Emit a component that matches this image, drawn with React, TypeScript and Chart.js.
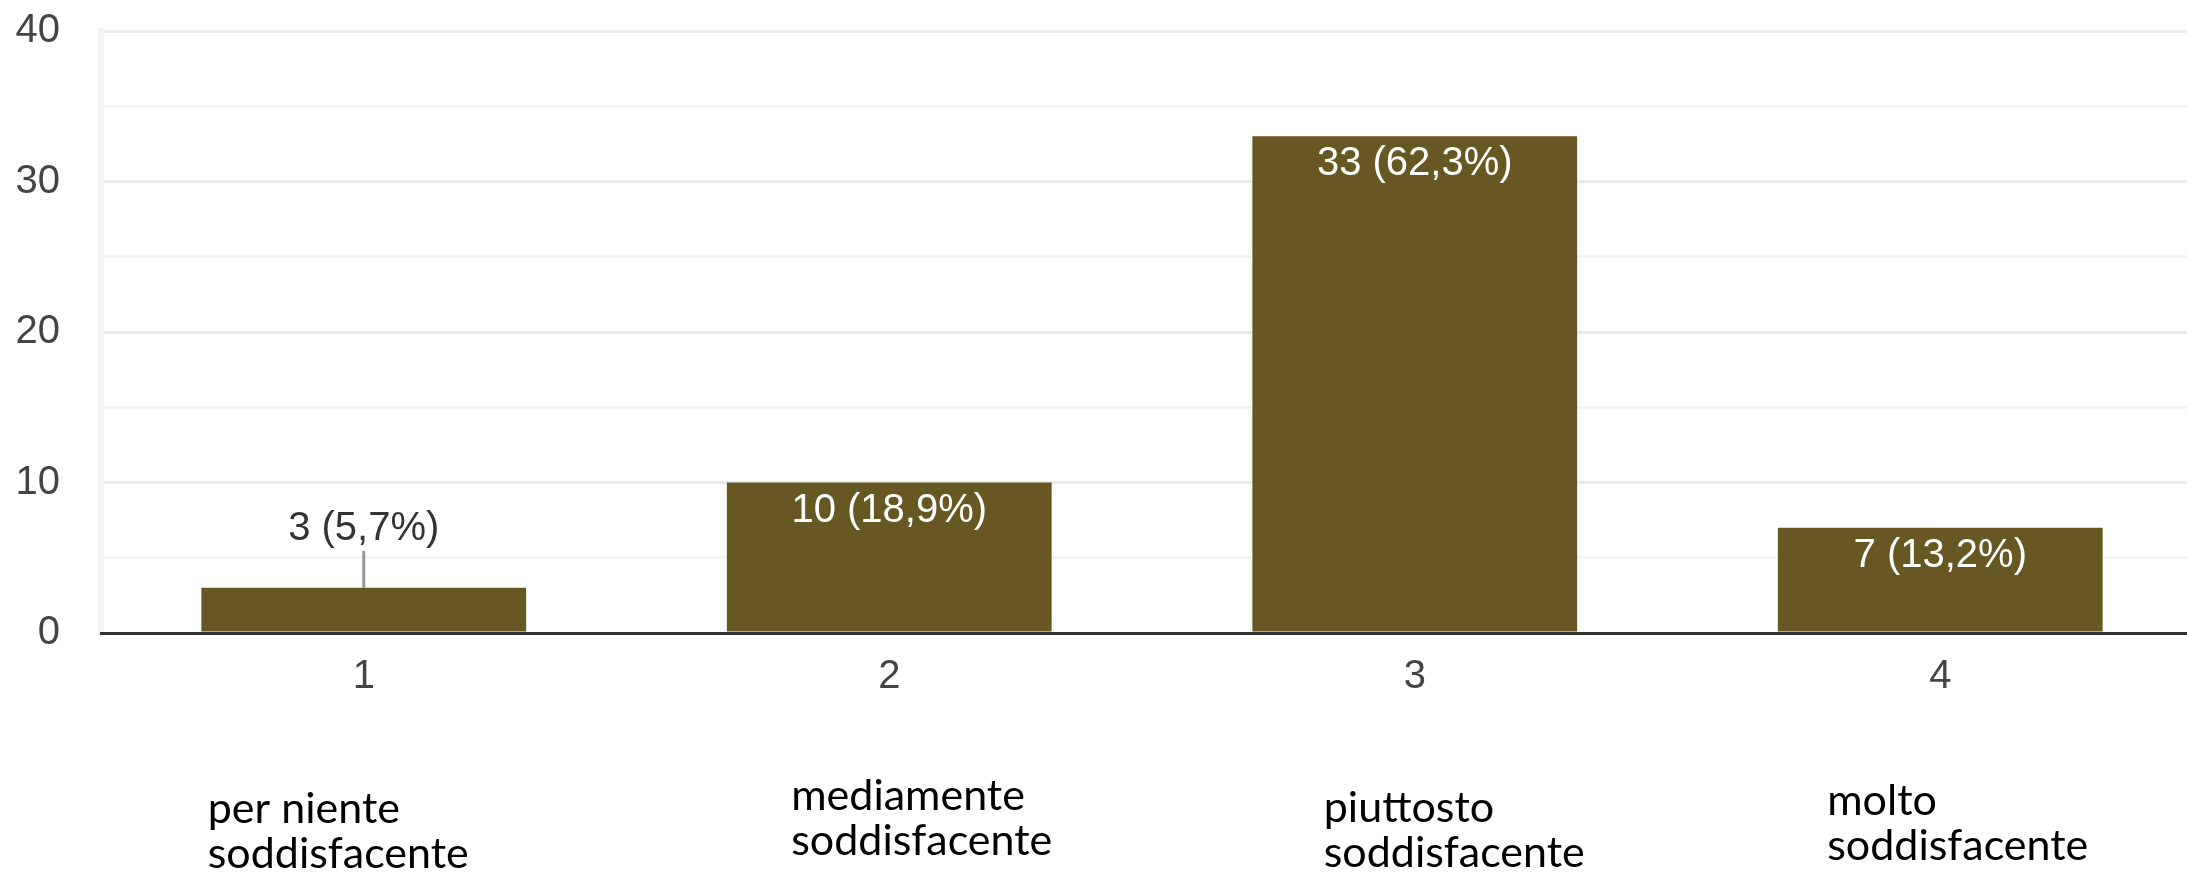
import React, { useEffect, useRef } from "react";
import { Chart, registerables } from "chart.js";

Chart.register(...registerables);

// ---- data ----
const CATEGORIES = ["1", "2", "3", "4"];
const CATEGORY_NAMES = [
  ["per niente", "soddisfacente"],
  ["mediamente", "soddisfacente"],
  ["piuttosto", "soddisfacente"],
  ["molto", "soddisfacente"],
];
const COUNTS = [3, 10, 33, 7];
const Y_TICKS = [0, 10, 20, 30, 40];

// ---- styles ----
const BAR_COLOR = "#675722";
const TICK_FONT = { family: '"Liberation Sans", Arial, sans-serif', size: 40 };
const NAME_FONT = '43px Lato, "Open Sans", sans-serif';
const NAME_LINE_HEIGHT = 45;
// nudges of the category captions relative to the bar centre / axis line
const NAME_NUDGE = [
  { dx: -156, dy: 190 },
  { dx: -98, dy: 177 },
  { dx: -91, dy: 189 },
  { dx: -113, dy: 182 },
];

const valueLabels = {
  id: "valueLabels",
  afterDatasetsDraw(chart: any) {
    const ctx = chart.ctx;
    const meta = chart.getDatasetMeta(0);
    const total = COUNTS.reduce((a, b) => a + b, 0);
    ctx.save();
    ctx.font = `${TICK_FONT.size}px ${TICK_FONT.family}`;
    ctx.textAlign = "center";
    ctx.textBaseline = "alphabetic";
    meta.data.forEach((bar: any, i: number) => {
      const v = COUNTS[i];
      const pct = ((v / total) * 100).toFixed(1).replace(".", ",");
      const text = `${v} (${pct}%)`;
      const { x, y, base } = bar.getProps(["x", "y", "base"], true);
      if (base - y > 70) {
        ctx.fillStyle = "#ffffff";
        ctx.fillText(text, x, y + 39);
      } else {
        ctx.fillStyle = "#333333";
        ctx.fillText(text, x, y - 48);
        ctx.strokeStyle = "#999999";
        ctx.lineWidth = 3;
        ctx.beginPath();
        ctx.moveTo(x, y - 37);
        ctx.lineTo(x, y);
        ctx.stroke();
      }
    });
    ctx.restore();
  },
};

const categoryNames = {
  id: "categoryNames",
  afterDraw(chart: any) {
    const ctx = chart.ctx;
    const xs = chart.scales.x;
    const bottom = chart.chartArea.bottom;
    ctx.save();
    ctx.font = NAME_FONT;
    ctx.fillStyle = "#000000";
    ctx.textAlign = "left";
    ctx.textBaseline = "alphabetic";
    CATEGORY_NAMES.forEach((lines, i) => {
      const cx = xs.getPixelForValue(i);
      const n = NAME_NUDGE[i];
      lines.forEach((line, j) => {
        ctx.fillText(line, cx + n.dx, bottom + n.dy + j * NAME_LINE_HEIGHT);
      });
    });
    ctx.restore();
  },
};

export default function App() {
  const ref = useRef<HTMLCanvasElement | null>(null);

  useEffect(() => {
    if (!ref.current) return;
    const chart = new Chart(ref.current, {
      type: "bar",
      data: {
        labels: CATEGORIES,
        datasets: [
          {
            data: COUNTS,
            backgroundColor: BAR_COLOR,
            borderWidth: 0,
            barPercentage: 0.618,
            categoryPercentage: 1,
          },
        ],
      },
      options: {
        responsive: false,
        animation: false,
        devicePixelRatio: 1,
        layout: { padding: { top: 31, left: 0, right: 0, bottom: 0 } },
        plugins: {
          legend: { display: false },
          tooltip: { enabled: false },
        },
        scales: {
          x: {
            grid: { display: false, drawTicks: false },
            border: { display: true, color: "#333333", width: 3, z: 1 },
            ticks: { font: TICK_FONT, color: "#444444", padding: 20 },
            afterFit: (s: any) => {
              s.height = 247;
              s.paddingLeft = 0;
              s.paddingRight = 0;
            },
          },
          y: {
            min: 0,
            max: 40,
            ticks: {
              stepSize: 5,
              autoSkip: false,
              callback: (v: any) => (Y_TICKS.includes(Number(v)) ? String(v) : ""),
              font: TICK_FONT,
              color: "#444444",
              padding: 41,
            },
            grid: {
              drawTicks: false,
              color: (c: any) =>
                c.tick && Y_TICKS.includes(c.tick.value) ? "#ebebeb" : "#f5f5f5",
              lineWidth: 3,
            },
            border: { color: "#f3f3f3", width: 6 },
            afterFit: (s: any) => {
              s.width = 101;
              s.paddingTop = 0;
              s.paddingBottom = 0;
            },
          },
        },
      },
      plugins: [valueLabels, categoryNames],
    } as any);
    return () => chart.destroy();
  }, []);

  return (
    <div
      style={{
        position: "fixed",
        left: 0,
        top: 0,
        width: 2187,
        height: 880,
        overflow: "hidden",
        background: "#ffffff",
      }}
    >
      <canvas
        ref={ref}
        width={2203}
        height={880}
        style={{ display: "block", width: 2203, height: 880 }}
      />
    </div>
  );
}
